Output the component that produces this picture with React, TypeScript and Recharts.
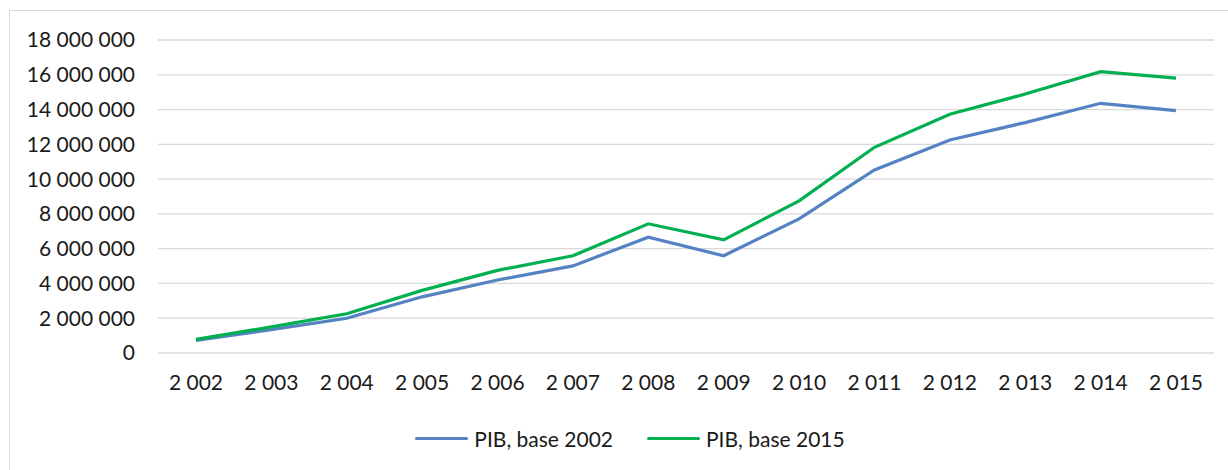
import { CartesianGrid, Legend, Line, LineChart, XAxis, YAxis } from 'recharts';

const years = [2002, 2003, 2004, 2005, 2006, 2007, 2008, 2009, 2010, 2011, 2012, 2013, 2014, 2015];
const pibBase2002 = [
  720000, 1340000, 2000000, 3230000, 4200000, 5010000, 6660000, 5590000, 7710000, 10530000, 12250000, 13250000,
  14360000, 13940000,
];
const pibBase2015 = [
  780000, 1500000, 2260000, 3600000, 4750000, 5590000, 7430000, 6510000, 8750000, 11830000, 13730000, 14890000,
  16180000, 15810000,
];
const yTicks = [0, 2000000, 4000000, 6000000, 8000000, 10000000, 12000000, 14000000, 16000000, 18000000];

const BLUE = '#5482C2';
const GREEN = '#00B050';
const FONT = 'Lato, "Open Sans", sans-serif';

const withSpaces = (v: number) => String(v).replace(/\B(?=(\d{3})+(?!\d))/g, ' ');

const data = years.map((year, i) => ({
  year,
  base2002: pibBase2002[i],
  base2015: pibBase2015[i],
}));

function LegendContent() {
  const items = [
    { label: 'PIB, base 2002', color: BLUE },
    { label: 'PIB, base 2015', color: GREEN },
  ];
  return (
    <div
      style={{
        height: 36,
        display: 'flex',
        justifyContent: 'center',
        alignItems: 'center',
        gap: 34,
        fontFamily: FONT,
        fontSize: 21,
        color: '#1a1a1a',
        paddingLeft: 46,
      }}
    >
      {items.map((it) => (
        <span key={it.label} style={{ display: 'flex', alignItems: 'center' }}>
          <span style={{ width: 53, height: 3, background: it.color, borderRadius: 2, marginRight: 6 }} />
          {it.label}
        </span>
      ))}
    </div>
  );
}

export default function App() {
  return (
    <div style={{ position: 'fixed', left: 0, top: 0, width: 1228, height: 470, overflow: 'hidden', background: '#fff' }}>
      <div
        style={{
          position: 'absolute',
          left: 9,
          top: 10,
          width: 1260,
          height: 500,
          border: '1.5px solid #d9d9d9',
        }}
      />
      <LineChart
        width={1228}
        height={470}
        data={data}
        margin={{ top: 40, right: 14, bottom: 0, left: 0 }}
        style={{ position: 'absolute', left: 0, top: 0 }}
      >
        <CartesianGrid vertical={false} stroke="#d9d9d9" strokeWidth={1.3} />
        <XAxis
          dataKey="year"
          axisLine={false}
          tickLine={false}
          tickSize={0}
          tickMargin={22}
          height={81}
          interval={0}
          padding={{ left: 38, right: 38 }}
          tickFormatter={withSpaces}
          tick={{ fill: '#1a1a1a', fontSize: 21, fontFamily: FONT }}
        />
        <YAxis
          width={158}
          domain={[0, 18000000]}
          ticks={yTicks}
          axisLine={false}
          tickLine={false}
          tickSize={0}
          tickMargin={23}
          tickFormatter={withSpaces}
          tick={{ fill: '#1a1a1a', fontSize: 21, fontFamily: FONT }}
        />
        <Legend verticalAlign="bottom" wrapperStyle={{ bottom: 14 }} content={() => <LegendContent />} />
        <Line
          type="linear"
          dataKey="base2002"
          name="PIB, base 2002"
          stroke={BLUE}
          strokeWidth={3.2}
          dot={false}
          activeDot={false}
          isAnimationActive={false}
        />
        <Line
          type="linear"
          dataKey="base2015"
          name="PIB, base 2015"
          stroke={GREEN}
          strokeWidth={3.2}
          dot={false}
          activeDot={false}
          isAnimationActive={false}
        />
      </LineChart>
    </div>
  );
}
